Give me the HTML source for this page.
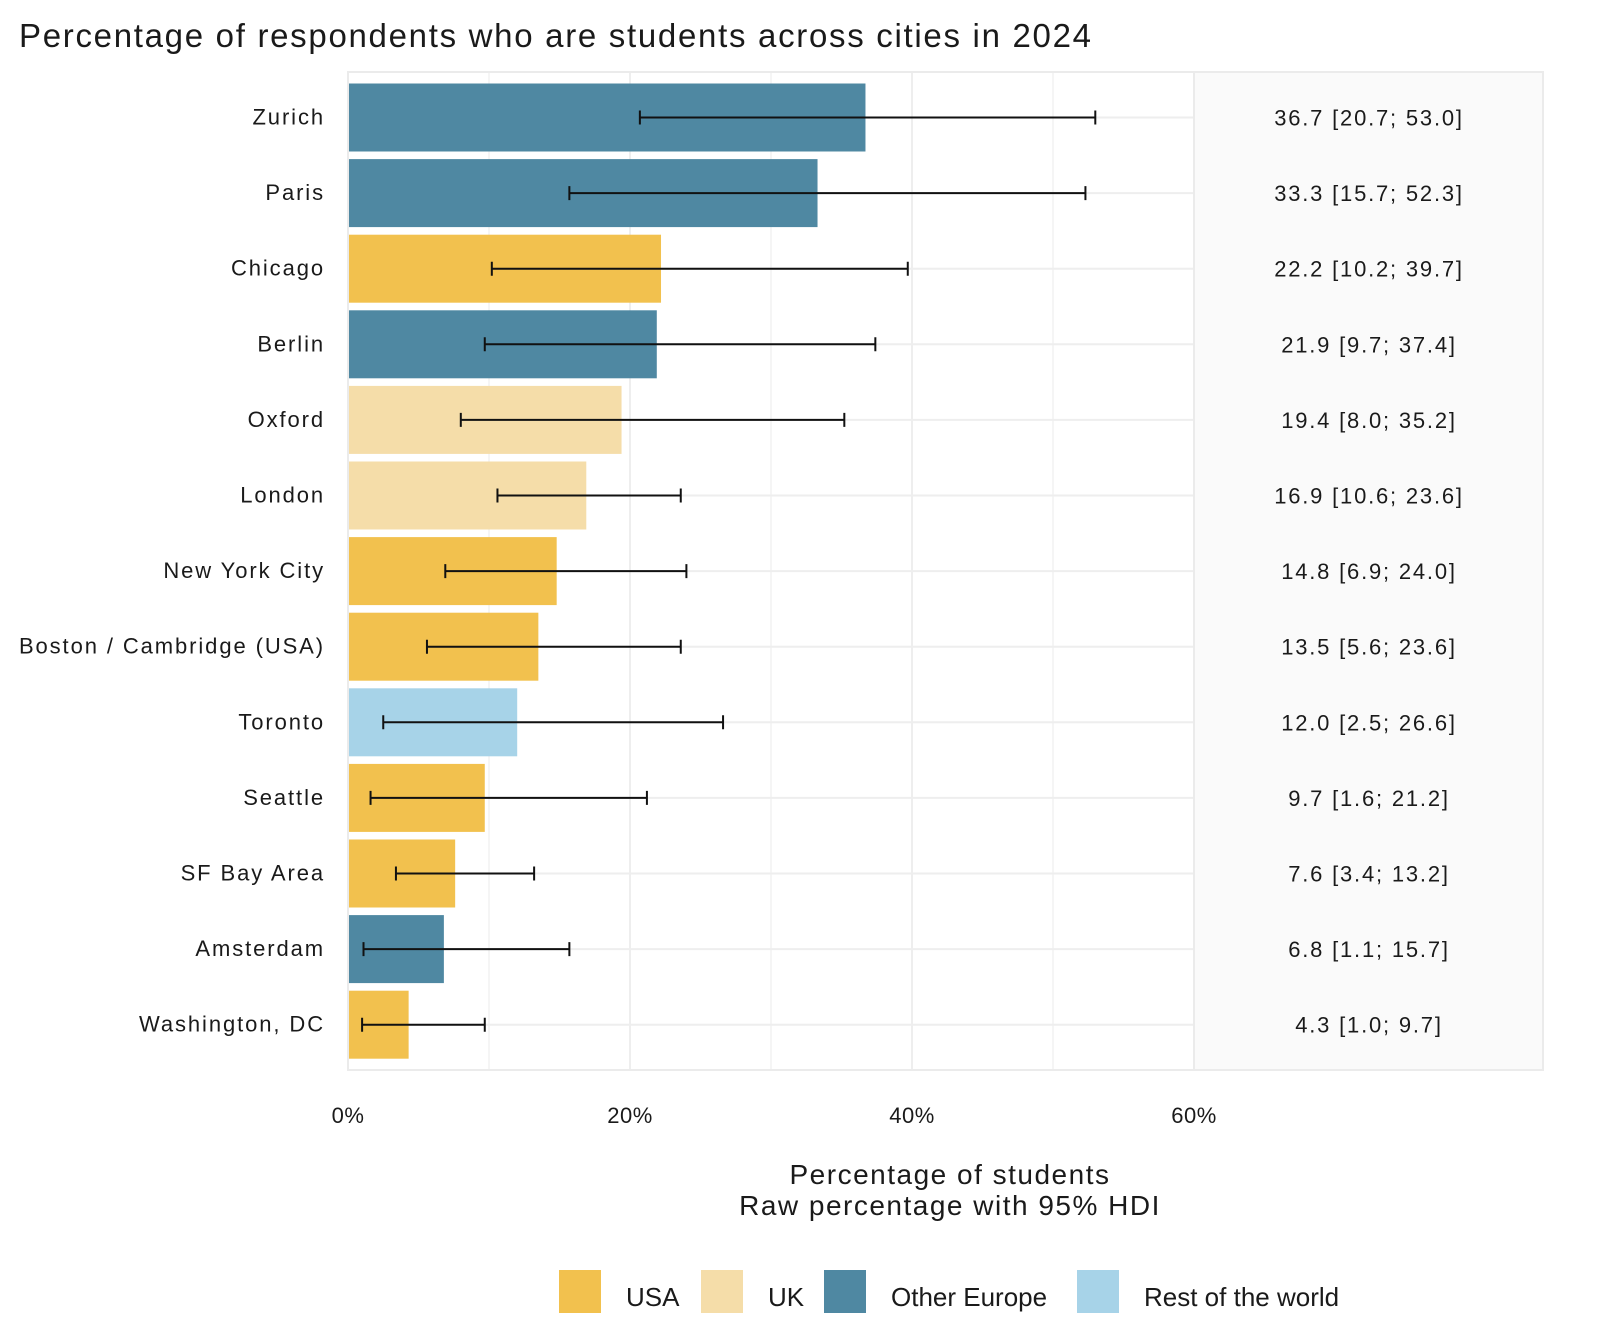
<!DOCTYPE html>
<html><head><meta charset="utf-8"><style>
body{margin:0;background:#fff;font-family:"Liberation Sans",sans-serif;}
svg text{font-family:"Liberation Sans",sans-serif;fill:#1a1a1a;}
</style></head><body>
<svg id="c" width="1600" height="1334" xmlns="http://www.w3.org/2000/svg">
<text x="19" y="47" font-size="33" letter-spacing="1.7">Percentage of respondents who are students across cities in 2024</text>
<rect x="348" y="72" width="846" height="998" fill="#fff" stroke="#ebebeb" stroke-width="2"/>
<rect x="1194" y="72" width="349" height="998" fill="#fafafa" stroke="#ebebeb" stroke-width="2"/>
<g id="grid"></g><g id="bars"></g><g id="labels"></g>
<text x="950" y="1184" font-size="28" letter-spacing="1.5" text-anchor="middle">Percentage of students</text>
<text x="950" y="1215" font-size="28" letter-spacing="1.5" text-anchor="middle">Raw percentage with 95% HDI</text>
<g id="legend"></g>
</svg>
<script>
const cities=["Zurich","Paris","Chicago","Berlin","Oxford","London","New York City","Boston / Cambridge (USA)","Toronto","Seattle","SF Bay Area","Amsterdam","Washington, DC"];
const values=[36.7,33.3,22.2,21.9,19.4,16.9,14.8,13.5,12.0,9.7,7.6,6.8,4.3];
const lows=[20.7,15.7,10.2,9.7,8.0,10.6,6.9,5.6,2.5,1.6,3.4,1.1,1.0];
const highs=[53.0,52.3,39.7,37.4,35.2,23.6,24.0,23.6,26.6,21.2,13.2,15.7,9.7];
const regions=["Other Europe","Other Europe","USA","Other Europe","UK","UK","USA","USA","Rest of the world","USA","USA","Other Europe","USA"];
const ticks=[0,20,40,60];
const legendItems=["USA","UK","Other Europe","Rest of the world"];
const colors={"USA":"#f2c14e","UK":"#f5dda9","Other Europe":"#4f88a2","Rest of the world":"#a7d3e8"};
const NS="http://www.w3.org/2000/svg";
const x=v=>348+v*14.1;
const y=i=>117.5+i*75.6;
function mk(t,a,p){const e=document.createElementNS(NS,t);for(const k in a)e.setAttribute(k,a[k]);p.appendChild(e);return e;}
const G=document.getElementById('grid'),B=document.getElementById('bars'),L=document.getElementById('labels'),LG=document.getElementById('legend');
for(let v=10;v<60;v+=10){const l=mk('line',{x1:x(v),x2:x(v),y1:73,y2:1069,stroke:'#eeeeee','stroke-width':v%20?1.2:2},G);

}
cities.forEach((c,i)=>{const g=mk('line',{x1:349,x2:1193,y1:y(i),y2:y(i),stroke:'#eeeeee','stroke-width':2},G);

});
ticks.forEach(t=>{const e=mk('text',{x:x(t),y:1123,'font-size':22,'text-anchor':'middle','letter-spacing':0.5},L);e.textContent=t+'%';

});
cities.forEach((c,i)=>{
const r=mk('rect',{x:x(0)+1,y:y(i)-34,width:x(values[i])-x(0)-1,height:68,fill:colors[regions[i]]},B);


const e=mk('path',{d:`M${x(lows[i])},${y(i)}H${x(highs[i])}M${x(lows[i])},${y(i)-7}v14M${x(highs[i])},${y(i)-7}v14`,stroke:'#111','stroke-width':2,fill:'none'},B);


const t=mk('text',{x:325,y:y(i)+7,'font-size':22,'text-anchor':'end','letter-spacing':1.9},L);t.textContent=c;


const v=mk('text',{x:1369,y:y(i)+8,'font-size':22,'text-anchor':'middle','letter-spacing':1.8},L);v.textContent=values[i].toFixed(1)+' ['+lows[i].toFixed(1)+'; '+highs[i].toFixed(1)+']';


});
const lx=[559,701,824,1077];
legendItems.forEach((k,i)=>{
const r=mk('rect',{x:lx[i],y:1270,width:42,height:43,fill:colors[k]},LG);


const t=mk('text',{x:lx[i]+67,y:1306,'font-size':26},LG);t.textContent=k;


});
</script>
</body></html>
